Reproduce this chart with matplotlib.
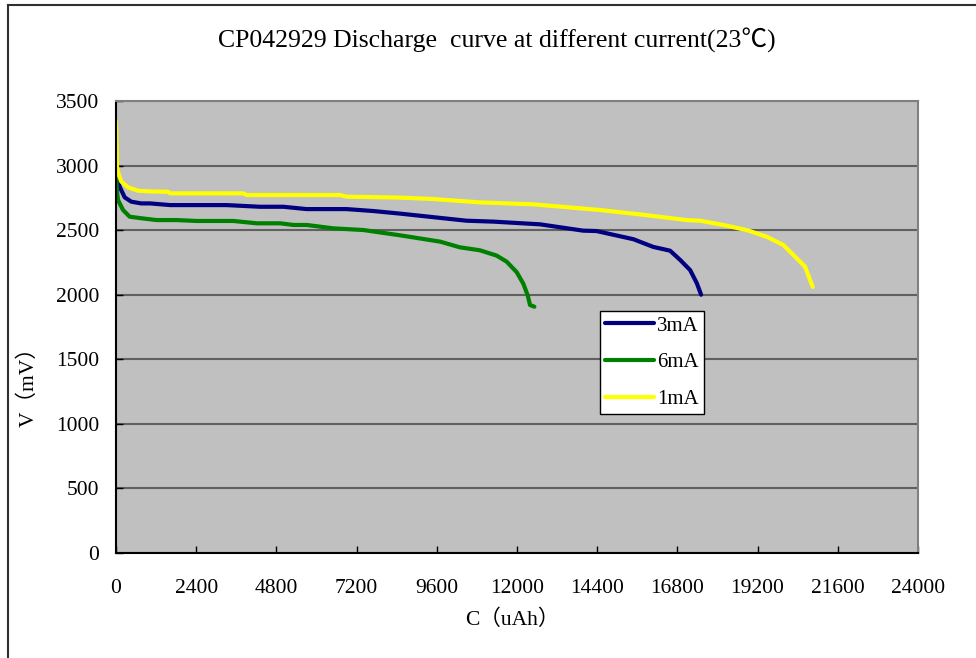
import matplotlib
matplotlib.use("Agg")
import matplotlib.pyplot as plt
from matplotlib.lines import Line2D

plt.rcParams['font.family'] = ['Liberation Serif', 'Noto Sans CJK SC', 'DejaVu Sans']

# 1mA curve
x1 = [0, 30, 80, 160, 360, 660, 1000, 1560, 1620, 3800, 3910, 6700, 6900, 8500,
      9490, 10890, 12480, 14480, 15680, 17080, 17480, 18170, 18870, 19470, 19970,
      20370, 20620, 20850]
y1 = [3340, 2990, 2930, 2875, 2832, 2805, 2800, 2797, 2785, 2785, 2772, 2772, 2759,
      2752, 2741, 2715, 2700, 2656, 2622, 2578, 2573, 2540, 2501, 2449, 2385, 2282,
      2217, 2060]

# 3mA curve
x3 = [0, 40, 110, 260, 460, 760, 1020, 1620, 3310, 4310, 5010, 5700, 6900, 7700,
      8500, 10490, 11290, 12690, 13980, 14380, 15480, 16080, 16580, 16880, 17180,
      17380, 17510]
y3 = [3000, 2900, 2836, 2754, 2720, 2707, 2707, 2694, 2694, 2681, 2681, 2663, 2663,
      2648, 2628, 2573, 2566, 2545, 2496, 2493, 2430, 2370, 2341, 2270, 2191, 2090,
      2000]

# 6mA curve
x6 = [0, 30, 60, 210, 410, 760, 1216, 1816, 2415, 3510, 4210, 4910, 5310, 5710,
      6500, 7400, 8500, 9700, 10290, 10890, 11390, 11690, 11990, 12190, 12320,
      12390, 12520]
y6 = [2950, 2800, 2733, 2656, 2604, 2592, 2578, 2578, 2571, 2571, 2553, 2553, 2540,
      2540, 2514, 2501, 2460, 2411, 2367, 2344, 2303, 2256, 2175, 2085, 1995, 1920,
      1907]

xticks = list(range(0, 24001, 2400))
yticks = list(range(0, 3501, 500))

fig = plt.figure(figsize=(9.76, 6.58), dpi=100)
ax = fig.add_axes([116/976, 1-553/658, 802/976, 452/658])
ax.set_facecolor('#c0c0c0')

kw = dict(lw=3, solid_capstyle='round', solid_joinstyle='round')
l3, = ax.plot(x3, y3, color='#000080', **kw)
l6, = ax.plot(x6, y6, color='#008000', **kw)
l1, = ax.plot(x1, y1, color='#ffff00', **kw)

ax.set_xlim(0, 24000)
ax.set_ylim(0, 3500)
ax.set_xticks(xticks)
ax.set_yticks(yticks)
ax.yaxis.grid(True, color='#606060', lw=1.5)
ax.set_axisbelow(True)
ax.tick_params(axis='x', direction='in', length=5, width=1, pad=19, labelsize=15.5)
ax.tick_params(axis='y', direction='in', length=5, width=1, pad=12, labelsize=15.5)
for s in ['left', 'bottom']:
    ax.spines[s].set_color('black')
    ax.spines[s].set_linewidth(1.5)
for s in ['top', 'right']:
    ax.spines[s].set_color('#808080')
    ax.spines[s].set_linewidth(1.5)

fig.text(497/976, 1-40/658, 'CP042929 Discharge  curve at different current(23\u2103)',
         ha='center', va='center', fontsize=18.5)
fig.text(512/976, 1-620/658, 'C\uff08uAh\uff09', ha='center', va='center', fontsize=15.5)
fig.text(28/976, 1-382/658, 'V\uff08mV\uff09', ha='center', va='center', fontsize=15.5,
         rotation=90)

leg = ax.legend([l3, l6, l1], ['3mA', '6mA', '1mA'], loc='upper left',
                bbox_to_anchor=(600/976, 1-311/658), bbox_transform=fig.transFigure,
                fontsize=15, frameon=True, fancybox=False, framealpha=1,
                handlelength=2.35, handletextpad=0.15, labelspacing=0.82,
                borderpad=0.25, borderaxespad=0)
leg.get_frame().set_edgecolor('black')
leg.get_frame().set_linewidth(1)

# outer chart border (top and left edges visible)
fig.add_artist(Line2D([8/976, 1], [1-5/658, 1-5/658], color='#303030', lw=1.5))
fig.add_artist(Line2D([8/976, 8/976], [0, 1-5/658], color='#303030', lw=1.5))

fig.savefig('out.png', dpi=100)
